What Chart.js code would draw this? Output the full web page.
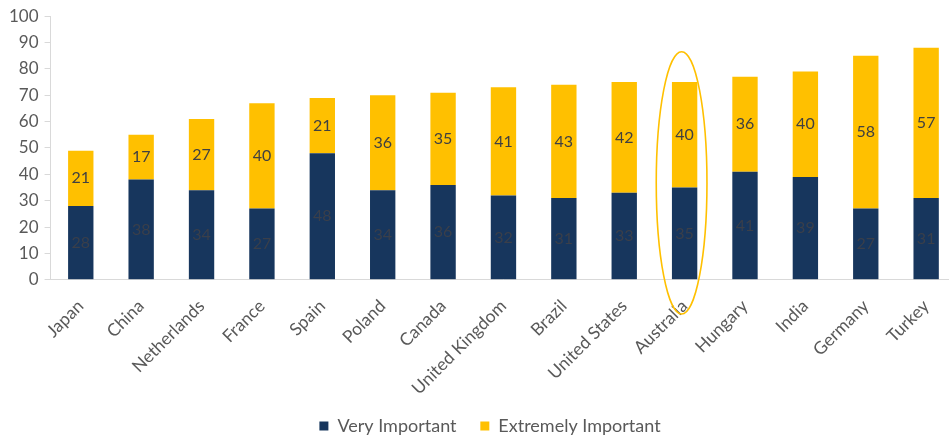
<!DOCTYPE html>
<html>
<head>
<meta charset="utf-8">
<script src="https://cdn.jsdelivr.net/npm/chart.js@4/dist/chart.umd.min.js"></script>
<style>
  html, body { margin: 0; padding: 0; background: #fff; overflow: hidden; }
  #wrap { width: 957px; height: 445px; position: relative; }
</style>
</head>
<body>
<div id="wrap"><canvas id="c" width="957" height="445"></canvas></div>
<script>
const categories = ["Japan","China","Netherlands","France","Spain","Poland","Canada","United Kingdom","Brazil","United States","Australia","Hungary","India","Germany","Turkey"];
const veryImportant = [28,38,34,27,48,34,36,32,31,33,35,41,39,27,31];
const extremelyImportant = [21,17,27,40,21,36,35,41,43,42,40,36,40,58,57];
const yTicks = [0,10,20,30,40,50,60,70,80,90,100];
const highlighted = "Australia";

const FONT = "Lato, 'Open Sans', sans-serif";
const GREY = "#595959";

const labelPlugin = {
  id: 'segLabels',
  afterDatasetsDraw(chart) {
    const ctx = chart.ctx;
    ctx.save();
    ctx.font = "16px " + FONT;
    ctx.textAlign = 'center';
    ctx.textBaseline = 'middle';
    chart.data.datasets.forEach((ds, di) => {
      const meta = chart.getDatasetMeta(di);
      meta.data.forEach((bar, i) => {
        ctx.fillStyle = di === 0 ? '#3a3f4a' : '#404040';
        ctx.fillText(String(ds.data[i]), bar.x, (bar.y + bar.base) / 2);
      });
    });
    ctx.restore();
  }
};

const ellipsePlugin = {
  id: 'highlight',
  afterDatasetsDraw(chart) {
    const idx = categories.indexOf(highlighted);
    if (idx < 0) return;
    const bar = chart.getDatasetMeta(1).data[idx];
    const ys = chart.scales.y;
    const top = ys.getPixelForValue(86.5);
    const bottom = ys.getPixelForValue(-13);
    const ctx = chart.ctx;
    ctx.save();
    ctx.strokeStyle = '#FFC000';
    ctx.lineWidth = 1.6;
    ctx.beginPath();
    ctx.ellipse(bar.x - 3, (top + bottom) / 2, bar.width, (bottom - top) / 2, 0, 0, Math.PI * 2);
    ctx.stroke();
    ctx.restore();
  }
};

const legendShift = {
  id: 'legendShift',
  afterLayout(chart) {
    if (chart.legend) { chart.legend.left += 10; chart.legend.right += 10; }
  }
};

new Chart(document.getElementById('c'), {
  type: 'bar',
  data: {
    labels: categories,
    datasets: [
      { label: 'Very Important', data: veryImportant, backgroundColor: '#17365D', borderWidth: 0 },
      { label: 'Extremely Important', data: extremelyImportant, backgroundColor: '#FFC000', borderWidth: 0 }
    ]
  },
  options: {
    responsive: false,
    animation: false,
    devicePixelRatio: 1,
    layout: { padding: { top: 6, left: 3, right: 0, bottom: 0 } },
    datasets: { bar: { categoryPercentage: 1.0, barPercentage: 0.42 } },
    plugins: {
      legend: {
        position: 'bottom',
        labels: {
          boxWidth: 9, boxHeight: 9, padding: 10,
          color: GREY,
          font: { family: FONT, size: 18 },
          generateLabels(chart) {
            const items = Chart.defaults.plugins.legend.labels.generateLabels(chart);
            items.forEach((it, k) => { if (k === 0) it.text = it.text + '   '; });
            return items;
          }
        }
      },
      tooltip: { enabled: false }
    },
    scales: {
      x: {
        stacked: true,
        afterFit(scale) { scale.height -= 8; },
        grid: { display: true, drawOnChartArea: false, drawTicks: false },
        border: { display: true, color: '#d9d9d9', width: 1 },
        ticks: {
          color: GREY, font: { family: FONT, size: 17.5 },
          maxRotation: 45, minRotation: 45, padding: 16, autoSkip: false
        }
      },
      y: {
        stacked: true,
        min: 0, max: 100,
        afterBuildTicks(axis) { axis.ticks = yTicks.map(v => ({ value: v })); },
        grid: { display: true, drawOnChartArea: false, drawTicks: true, tickLength: 6, color: '#d9d9d9' },
        border: { display: true, color: '#d9d9d9', width: 1 },
        ticks: { color: GREY, font: { family: FONT, size: 17 }, padding: 6 }
      }
    }
  },
  plugins: [labelPlugin, ellipsePlugin, legendShift]
});
</script>
</body>
</html>
